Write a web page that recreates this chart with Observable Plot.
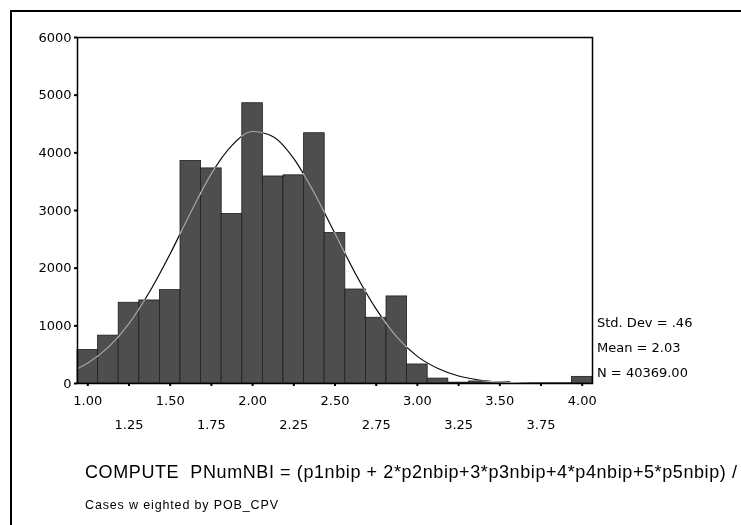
<!DOCTYPE html>
<html>
<head>
<meta charset="utf-8">
<script src="https://cdn.jsdelivr.net/npm/d3@7"></script>
<script src="https://cdn.jsdelivr.net/npm/@observablehq/plot@0.6"></script>
<style>
  html, body { margin: 0; padding: 0; background: #fff; }
  #wrap { position: relative; width: 741px; height: 525px; overflow: hidden; background: #fff; }
  #border { position: absolute; left: 10px; top: 10px; width: 740px; height: 520px;
            border-top: 2px solid #000; border-left: 2px solid #000; box-sizing: border-box; }
  #chart svg { background: #fff; }
  #ann { position: absolute; left: 0; top: 0; pointer-events: none; }
  #ann text { white-space: pre; fill: #000; }
</style>
</head>
<body>
<div id="wrap">
  <div id="chart"></div>
  <div id="border"></div>
  <svg id="ann" width="741" height="525"></svg>
</div>
<script>
// ---- data ----
const binCenters = [1.000, 1.125, 1.250, 1.375, 1.500, 1.625, 1.750, 1.875, 2.000, 2.125,
                    2.250, 2.375, 2.500, 2.625, 2.750, 2.875, 3.000, 3.125, 3.250, 3.375,
                    3.500, 3.625, 3.750, 3.875, 4.000];
const binCounts  = [580, 830, 1400, 1440, 1620, 3860, 3730, 2940, 4860, 3590,
                    3610, 4340, 2610, 1630, 1140, 1510, 330, 85, 15, 35,
                    25, 10, 5, 5, 115];
const binWidth = 0.125;

const curveX = [0.94, 1.000, 1.125, 1.250, 1.375, 1.500, 1.625, 1.750, 1.875, 2.000,
                2.125, 2.250, 2.375, 2.500, 2.625, 2.750, 2.875, 3.000, 3.125, 3.250,
                3.375, 3.500, 3.625, 3.750, 3.875, 4.000, 4.06];
const curveY = [260, 355, 630, 1040, 1590, 2250, 2970, 3640, 4130, 4370,
                4280, 3900, 3300, 2600, 1900, 1290, 810, 470, 260, 130,
                60, 27, 11, 4, 1, 0, 0];

const yTicks = [0, 1000, 2000, 3000, 4000, 5000, 6000];
const xTicksRow1 = [1.00, 1.50, 2.00, 2.50, 3.00, 3.50, 4.00];
const xTicksRow2 = [1.25, 1.75, 2.25, 2.75, 3.25, 3.75];

const statLines = ["Std. Dev = .46", "Mean = 2.03", "N = 40369.00"];
const noteLine = "COMPUTE  PNumNBI = (p1nbip + 2*p2nbip+3*p3nbip+4*p4nbip+5*p5nbip) /";
const weightLine = "Cases w eighted by POB_CPV";

// ---- build tables ----
const bins = binCenters.map((c, i) => ({x1: c - binWidth / 2, x2: c + binWidth / 2, count: binCounts[i]}));
const curve = curveX.map((x, i) => ({x, y: curveY[i]}));

const fmt2 = d3.format(".2f");

const chart = Plot.plot({
  width: 741,
  height: 525,
  marginLeft: 77,
  marginRight: 149,
  marginTop: 37,
  marginBottom: 142,
  style: {fontFamily: "DejaVu Sans, sans-serif", fontSize: "13px", color: "#000", background: "#fff"},
  x: {domain: [0.9375, 4.0625]},
  y: {domain: [0, 6000]},
  marks: [
    Plot.frame({fill: "#fff"}),
    Plot.rectY(bins, {x1: "x1", x2: "x2", y: "count", fill: "#4e4e4e", stroke: "#1e1e1e", strokeWidth: 0.8}),
    // difference blend: near-black over white, light gray where it crosses the bars
    Plot.line(curve, {x: "x", y: "y", curve: "monotone-x", stroke: "#f4f4f4", strokeWidth: 1.2, mixBlendMode: "difference"}),
    Plot.frame({stroke: "#000", strokeWidth: 1.5}),
    Plot.axisY(yTicks, {tickSize: 3, tickPadding: 3, strokeWidth: 2, tickFormat: d3.format("d"), label: null}),
    Plot.axisX(xTicksRow1, {tickSize: 3, tickPadding: 9, strokeWidth: 2, tickFormat: fmt2, label: null}),
    Plot.axisX(xTicksRow2, {tickSize: 3, tickPadding: 33, strokeWidth: 2, tickFormat: fmt2, label: null})
  ]
});
document.getElementById("chart").appendChild(chart);

// ---- annotations outside the plot area ----
const ann = d3.select("#ann");
statLines.forEach((t, i) => {
  ann.append("text")
    .attr("x", 597)
    .attr("y", 326.5 + i * 25)
    .attr("font-family", "DejaVu Sans, sans-serif")
    .attr("font-size", 13)
    .text(t);
});
ann.append("text")
  .attr("x", 85).attr("y", 478)
  .attr("font-family", "Liberation Sans, Arial, sans-serif")
  .attr("font-size", 18)
  .attr("textLength", 652).attr("lengthAdjust", "spacing")
  .text(noteLine);
ann.append("text")
  .attr("x", 85).attr("y", 509)
  .attr("font-family", "Liberation Sans, Arial, sans-serif")
  .attr("font-size", 12.5)
  .attr("textLength", 193).attr("lengthAdjust", "spacing")
  .text(weightLine);
</script>
</body>
</html>
